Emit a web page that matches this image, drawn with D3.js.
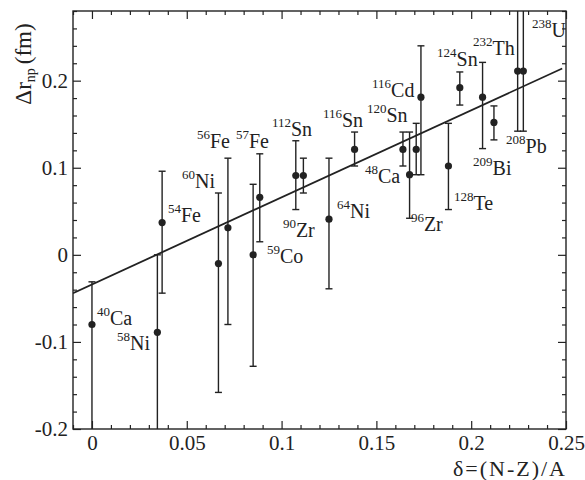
<!DOCTYPE html>
<html lang="en">
<head>
    <meta charset="UTF-8">
    <title>Neutron skin vs asymmetry</title>
    <script src="https://d3js.org/d3.v7.min.js"></script>
    <style>
        body { margin: 0; background: #fff; }
        svg text { font-family: "Liberation Serif", "Times New Roman", Times, "DejaVu Serif", serif; }
        .axis path { display: none; }
        .axis line { stroke: #222; stroke-width: 1.2; }
        .axis text { font-size: 21px; fill: #222; }
        .bar { stroke: #222; stroke-width: 1.4; fill: none; }
        .iso { font-size: 20px; fill: #222; }
    </style>
</head>
<body>
    <svg width="585" height="480"></svg>
    <script>
        // data: delta = (N-Z)/A, skin thickness and error range (fm)
        const nuclei = ["40Ca", "58Ni", "54Fe", "60Ni", "56Fe", "59Co", "57Fe", "112Sn", "90Zr", "64Ni", "116Sn",
                        "120Sn", "96Zr", "48Ca", "116Cd", "128Te", "124Sn", "209Bi", "208Pb", "232Th", "238U"];
        const delta = [0, 0.0345, 0.037, 0.0667, 0.0717, 0.085, 0.0885, 0.1075, 0.1115, 0.125, 0.1385,
                       0.164, 0.1675, 0.171, 0.1735, 0.188, 0.194, 0.206, 0.212, 0.2245, 0.2275];
        const drnp = [-0.080, -0.089, 0.037, -0.010, 0.031, 0.000, 0.066, 0.091, 0.091, 0.041, 0.121,
                      0.121, 0.092, 0.121, 0.181, 0.102, 0.192, 0.181, 0.152, 0.211, 0.211];
        const errLow = [-0.30, -0.30, -0.044, -0.158, -0.080, -0.128, 0.015, 0.052, 0.071, -0.039, 0.102,
                        0.102, 0.042, 0.092, 0.092, 0.052, 0.172, 0.122, 0.132, 0.142, 0.142];
        const errHigh = [-0.031, 0.000, 0.096, 0.071, 0.111, 0.081, 0.116, 0.131, 0.111, 0.111, 0.141,
                         0.141, 0.141, 0.151, 0.240, 0.151, 0.210, 0.221, 0.171, 0.40, 0.40];

        // linear fit drawn through the points
        const fitIntercept = -0.034;
        const fitSlope = 1.0;
        const fitRange = [-0.01, 0.248];

        // isotope labels: mass number, symbol, anchor in data units
        const labelMass = ["40", "58", "54", "60", "56", "57", "112", "90", "59", "64", "116",
                           "48", "120", "116", "124", "96", "128", "209", "232", "238", "208"];
        const labelSym = ["Ca", "Ni", "Fe", "Ni", "Fe", "Fe", "Sn", "Zr", "Co", "Ni", "Sn",
                          "Ca", "Sn", "Cd", "Sn", "Zr", "Te", "Bi", "Th", "U", "Pb"];
        const labelX = [0.0026, 0.0132, 0.0401, 0.0475, 0.0554, 0.0759, 0.0949, 0.1007, 0.0923, 0.1292, 0.1218,
                        0.144, 0.145, 0.1477, 0.182, 0.1682, 0.1909, 0.201, 0.201, 0.2321, 0.2184];
        const labelY = [-0.0806, -0.109, 0.0377, 0.0767, 0.1226, 0.1226, 0.1364, 0.0204, -0.0094, 0.0423, 0.1468,
                        0.0825, 0.1525, 0.1812, 0.2168, 0.0273, 0.0514, 0.0916, 0.2294, 0.2501, 0.1169];

        const xTicks = [0, 0.05, 0.1, 0.15, 0.2, 0.25];
        const xTickLabels = ["0", "0.05", "0.1", "0.15", "0.2", "0.25"];
        const yTicks = [-0.2, -0.1, 0, 0.1, 0.2];
        const yTickLabels = ["-0.2", "-0.1", "0", "0.1", "0.2"];

        const svg = d3.select("svg");
        const margin = {top: 11, right: 19, bottom: 51, left: 73};
        const width = 585, height = 480;

        const x = d3.scaleLinear().domain([-0.01, 0.25]).range([margin.left, width - margin.right]);
        const y = d3.scaleLinear().domain([-0.2, 0.28]).range([height - margin.bottom, margin.top]);

        const points = delta.map((d, i) => ({name: nuclei[i], x: d, y: drnp[i], lo: errLow[i], hi: errHigh[i]}));

        svg.append("clipPath").attr("id", "plot")
            .append("rect")
            .attr("x", x(-0.01)).attr("y", y(0.28))
            .attr("width", x(0.25) - x(-0.01)).attr("height", y(-0.2) - y(0.28));

        // minor ticks
        const xMinor = d3.range(-0.01, 0.2501, 0.01).filter(v => !xTicks.some(t => Math.abs(t - v) < 1e-6));
        const yMinor = d3.range(-0.2, 0.2801, 0.02).filter(v => !yTicks.some(t => Math.abs(t - v) < 1e-6));

        const fmtX = (d, i) => xTickLabels[i];
        const fmtY = (d, i) => yTickLabels[i];

        function styleAxis(g) {
            g.attr("font-family", null).attr("font-size", null);
        }

        svg.append("g").attr("class", "axis")
            .attr("transform", `translate(0,${y(-0.2)})`)
            .call(d3.axisBottom(x).tickValues(xTicks).tickFormat(fmtX).tickSizeInner(-8).tickSizeOuter(0).tickPadding(6))
            .call(styleAxis);
        svg.append("g").attr("class", "axis")
            .attr("transform", `translate(0,${y(-0.2)})`)
            .call(d3.axisBottom(x).tickValues(xMinor).tickFormat("").tickSizeInner(-4).tickSizeOuter(0));
        svg.append("g").attr("class", "axis")
            .attr("transform", `translate(0,${y(0.28)})`)
            .call(d3.axisTop(x).tickValues(xTicks).tickFormat("").tickSizeInner(-8).tickSizeOuter(0));
        svg.append("g").attr("class", "axis")
            .attr("transform", `translate(0,${y(0.28)})`)
            .call(d3.axisTop(x).tickValues(xMinor).tickFormat("").tickSizeInner(-4).tickSizeOuter(0));

        svg.append("g").attr("class", "axis")
            .attr("transform", `translate(${x(-0.01)},0)`)
            .call(d3.axisLeft(y).tickValues(yTicks).tickFormat(fmtY).tickSizeInner(-8).tickSizeOuter(0).tickPadding(5))
            .call(styleAxis);
        svg.append("g").attr("class", "axis")
            .attr("transform", `translate(${x(-0.01)},0)`)
            .call(d3.axisLeft(y).tickValues(yMinor).tickFormat("").tickSizeInner(-4).tickSizeOuter(0));
        svg.append("g").attr("class", "axis")
            .attr("transform", `translate(${x(0.25)},0)`)
            .call(d3.axisRight(y).tickValues(yTicks).tickFormat("").tickSizeInner(-8).tickSizeOuter(0));
        svg.append("g").attr("class", "axis")
            .attr("transform", `translate(${x(0.25)},0)`)
            .call(d3.axisRight(y).tickValues(yMinor).tickFormat("").tickSizeInner(-4).tickSizeOuter(0));

        // frame
        svg.append("rect")
            .attr("x", x(-0.01)).attr("y", y(0.28))
            .attr("width", x(0.25) - x(-0.01)).attr("height", y(-0.2) - y(0.28))
            .attr("fill", "none").attr("stroke", "#222").attr("stroke-width", 1.4);

        const plot = svg.append("g").attr("clip-path", "url(#plot)");

        // fit line
        plot.append("path")
            .datum(fitRange.map(v => ({x: v, y: fitIntercept + fitSlope * v})))
            .attr("d", d3.line().x(d => x(d.x)).y(d => y(d.y)))
            .attr("fill", "none").attr("stroke", "#222").attr("stroke-width", 1.8);

        // error bars
        const cap = 3.5;
        const bars = plot.selectAll("g.err").data(points).enter().append("g").attr("class", "err");
        bars.append("line").attr("class", "bar")
            .attr("x1", d => x(d.x)).attr("x2", d => x(d.x))
            .attr("y1", d => y(d.lo)).attr("y2", d => y(d.hi));
        bars.append("line").attr("class", "bar")
            .attr("x1", d => x(d.x) - cap).attr("x2", d => x(d.x) + cap)
            .attr("y1", d => y(d.lo)).attr("y2", d => y(d.lo));
        bars.append("line").attr("class", "bar")
            .attr("x1", d => x(d.x) - cap).attr("x2", d => x(d.x) + cap)
            .attr("y1", d => y(d.hi)).attr("y2", d => y(d.hi));

        plot.selectAll("circle.pt").data(points).enter().append("circle")
            .attr("class", "pt")
            .attr("cx", d => x(d.x)).attr("cy", d => y(d.y))
            .attr("r", 3.6).attr("fill", "#222");

        // isotope labels
        const labels = labelMass.map((m, i) => ({mass: m, sym: labelSym[i], x: labelX[i], y: labelY[i]}));
        const lab = svg.selectAll("text.iso").data(labels).enter().append("text")
            .attr("class", "iso")
            .attr("x", d => x(d.x)).attr("y", d => y(d.y));
        lab.append("tspan").attr("font-size", 13).attr("dy", -9).text(d => d.mass);
        lab.append("tspan").attr("dy", 9).text(d => d.sym);

        // axis titles
        svg.append("text")
            .attr("x", x(0.25) + 1).attr("y", 476)
            .attr("text-anchor", "end")
            .attr("font-size", 22).attr("letter-spacing", 2).attr("fill", "#222")
            .text("δ=(N-Z)/A");

        const yt = svg.append("text")
            .attr("transform", "translate(31,64) rotate(-90)")
            .attr("text-anchor", "middle")
            .attr("font-size", 23).attr("fill", "#222");
        yt.append("tspan").text("Δr");
        yt.append("tspan").attr("font-size", 14).attr("dy", 4).text("np");
        yt.append("tspan").attr("dy", -4).attr("dx", 4).text("(fm)");
    </script>
</body>
</html>
